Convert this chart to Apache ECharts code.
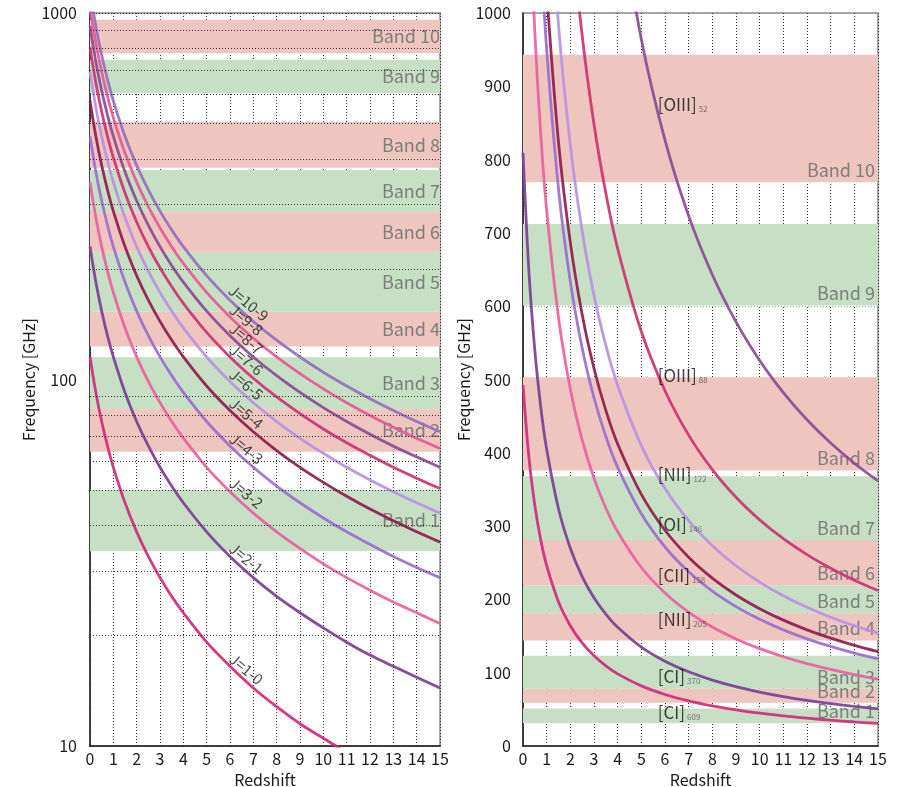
<!DOCTYPE html>
<html><head><meta charset="utf-8">
<script src="https://cdn.jsdelivr.net/npm/echarts/dist/echarts.min.js"></script>
<style>html,body{margin:0;padding:0;background:#fff}#c{width:899px;height:787px}</style>
</head><body><div id="c"></div>
<script>
// ---- data ----
const redshift = [0,0.25,0.5,0.75,1,1.5,2,2.5,3,3.5,4,5,6,7,8,9,10,11,12,13,14,15];

// CO ladder (left panel, GHz)
const coNames = ['J=1-0','J=2-1','J=3-2','J=4-3','J=5-4','J=6-5','J=7-6','J=8-7','J=9-8','J=10-9'];
const co10 = [115.3,92.2,76.8,65.9,57.6,46.1,38.4,32.9,28.8,25.6,23.1,19.2,16.5,14.4,12.8,11.5,10.5,9.6,8.87,8.23,7.68,7.2];
const co21 = [230.5,184.4,153.7,131.7,115.3,92.2,76.8,65.9,57.6,51.2,46.1,38.4,32.9,28.8,25.6,23.1,21.0,19.2,17.7,16.5,15.4,14.4];
const co32 = [345.8,276.6,230.5,197.6,172.9,138.3,115.3,98.8,86.5,76.8,69.2,57.6,49.4,43.2,38.4,34.6,31.4,28.8,26.6,24.7,23.1,21.6];
const co43 = [461.0,368.8,307.4,263.5,230.5,184.4,153.7,131.7,115.3,102.5,92.2,76.8,65.9,57.6,51.2,46.1,41.9,38.4,35.5,32.9,30.7,28.8];
const co54 = [576.3,461.0,384.2,329.3,288.1,230.5,192.1,164.6,144.1,128.1,115.3,96.0,82.3,72.0,64.0,57.6,52.4,48.0,44.3,41.2,38.4,36.0];
const co65 = [691.5,553.2,461.0,395.1,345.7,276.6,230.5,197.6,172.9,153.7,138.3,115.2,98.8,86.4,76.8,69.1,62.9,57.6,53.2,49.4,46.1,43.2];
const co76 = [806.7,645.3,537.8,460.9,403.3,322.7,268.9,230.5,201.7,179.3,161.3,134.4,115.2,100.8,89.6,80.7,73.3,67.2,62.1,57.6,53.8,50.4];
const co87 = [921.8,737.4,614.5,526.7,460.9,368.7,307.3,263.4,230.5,204.8,184.4,153.6,131.7,115.2,102.4,92.2,83.8,76.8,70.9,65.8,61.5,57.6];
const co98 = [1036.9,829.5,691.3,592.5,518.5,414.8,345.6,296.3,259.2,230.4,207.4,172.8,148.1,129.6,115.2,103.7,94.3,86.4,79.8,74.1,69.1,64.8];
const co109 = [1152.0,921.6,768.0,658.3,576.0,460.8,384.0,329.1,288.0,256.0,230.4,192.0,164.6,144.0,128.0,115.2,104.7,96.0,88.6,82.3,76.8,72.0];
const coLabelZ = [6.7,6.7,6.7,6.7,6.7,6.7,6.7,6.7,6.7,6.8];
const coLabelF = [16.2,32.5,49.0,64.7,80.8,97.0,113.1,129.3,145.4,161.6];

// Fine-structure lines (right panel, GHz)
const fsNames = ['[CI]','[CI]','[NII]','[CII]','[OI]','[NII]','[OIII]','[OIII]'];
const fsSubs  = ['609','370','205','158','146','122','88','52'];
const ci609  = [492.2,393.7,328.1,281.2,246.1,196.9,164.1,140.6,123.0,109.4,98.4,82.0,70.3,61.5,54.7,49.2,44.7,41.0,37.9,35.2,32.8,30.8];
const ci370  = [809.3,647.5,539.6,462.5,404.7,323.7,269.8,231.2,202.3,179.9,161.9,134.9,115.6,101.2,89.9,80.9,73.6,67.4,62.3,57.8,54.0,50.6];
const nii205 = [1461.1,1168.9,974.1,834.9,730.6,584.5,487.0,417.5,365.3,324.7,292.2,243.5,208.7,182.6,162.3,146.1,132.8,121.8,112.4,104.4,97.4,91.3];
const cii158 = [1900.5,1520.4,1267.0,1086.0,950.3,760.2,633.5,543.0,475.1,422.3,380.1,316.8,271.5,237.6,211.2,190.1,172.8,158.4,146.2,135.8,126.7,118.8];
const oi146  = [2060.1,1648.1,1373.4,1177.2,1030.0,824.0,686.7,588.6,515.0,457.8,412.0,343.3,294.3,257.5,228.9,206.0,187.3,171.7,158.5,147.1,137.3,128.8];
const nii122 = [2459.4,1967.5,1639.6,1405.4,1229.7,983.8,819.8,702.7,614.8,546.5,491.9,409.9,351.3,307.4,273.3,245.9,223.6,204.9,189.2,175.7,164.0,153.7];
const oiii88 = [3393.0,2714.4,2262.0,1938.9,1696.5,1357.2,1131.0,969.4,848.3,754.0,678.6,565.5,484.7,424.1,377.0,339.3,308.5,282.8,261.0,242.4,226.2,212.1];
const oiii52 = [5785.9,4628.7,3857.3,3306.2,2892.9,2314.4,1928.6,1653.1,1446.5,1285.8,1157.2,964.3,826.6,723.2,642.9,578.6,526.0,482.2,445.1,413.3,385.7,361.6];
const fsLabelZ = [5.67,5.67,5.67,5.67,5.67,5.67,5.67,5.67];
const fsLabelF = [46,95,173,233,302,370,505,875];

// ALMA bands as drawn in each panel (GHz)
const bandNames = ['Band 1','Band 2','Band 3','Band 4','Band 5','Band 6','Band 7','Band 8','Band 9','Band 10'];
const leftBandLo  = [34,63.5,83,123,153,223,286,378,605,778];
const leftBandHi  = [50,83,115,153,223,286,373,504,745,958];
const rightBandLo = [31,59,78,144,181,219,281,376,601,769];
const rightBandHi = [51,78,123,181,219,281,368,503,712,943];

// log-axis minor grid values
const logGrid = [20,30,40,50,60,70,80,90,200,300,400,500,600,700,800,900];

// ---- styling ----
const FONT = "'Noto Sans CJK JP','Noto Sans',sans-serif";
const palette = ['#cf2a7b','#7b3f93','#e9619f','#9b6dcf','#8e1c4c','#bb90e2','#cd3272','#8b4a95','#e35a94','#9270bd'];
const PINK = '#efc5c0', GREEN = '#c7dfc5';
const DOT = [1,2];

const coData = [co10,co21,co32,co43,co54,co65,co76,co87,co98,co109];
const fsData = [ci609,ci370,nii205,cii158,oi146,nii122,oiii88,oiii52];

function curve(vals, color, xi, name) {
  return {
    type:'line', name:name, xAxisIndex:xi, yAxisIndex:xi, z:3,
    data: redshift.map((z,i)=>[z, vals[i]]),
    showSymbol:false, smooth:0.35, clip:true, silent:true,
    lineStyle:{color:color, width:2.8, opacity:0.92}
  };
}
function bands(lo, hi, xi, pos, dist) {
  return {
    type:'line', xAxisIndex:xi, yAxisIndex:xi, data:[], z:-1, silent:true,
    markArea:{
      silent:true,
      label:{show:true, position:pos, distance:dist, fontSize:18, color:'#7d7d7d', fontFamily:FONT},
      data: lo.map((l,i)=>[
        {yAxis:l, name:bandNames[i], itemStyle:{color: i%2===0 ? GREEN : PINK, opacity:1}},
        {yAxis:hi[i]}
      ])
    }
  };
}

const series = [];
series.push(bands(leftBandLo, leftBandHi, 0, 'insideRight', 0));
series.push(bands(rightBandLo, rightBandHi, 1, 'insideBottomRight', 3));
series.push({
  type:'line', xAxisIndex:0, yAxisIndex:0, data:[], z:1, silent:true,
  markLine:{silent:true, symbol:['none','none'], label:{show:false},
    lineStyle:{color:'#333', type:DOT, width:1},
    data: logGrid.map(v=>({yAxis:v}))}
});
coData.forEach((d,i)=>series.push(curve(d, palette[i], 0, coNames[i])));
fsData.forEach((d,i)=>series.push(curve(d, palette[i], 1, fsNames[i]+fsSubs[i])));
series.push({
  type:'scatter', xAxisIndex:0, yAxisIndex:0, symbolSize:1, silent:true, z:5,
  itemStyle:{color:'transparent'},
  data: coNames.map((n,i)=>({name:n, value:[coLabelZ[i], coLabelF[i]]})),
  label:{show:true, position:'inside', formatter:'{b}', rotate:-40, fontSize:15, color:'#1a1a1a', fontFamily:FONT}
});
series.push({
  type:'scatter', xAxisIndex:1, yAxisIndex:1, symbolSize:1, silent:true, z:5,
  itemStyle:{color:'transparent'},
  data: fsNames.map((n,i)=>({name:n, sub:fsSubs[i], value:[fsLabelZ[i], fsLabelF[i]]})),
  label:{show:true, position:'right', distance:0,
    formatter: p => '{m|'+p.name+'}{s|'+p.data.sub+'}',
    rich:{m:{fontSize:17, color:'#111', fontFamily:FONT},
          s:{fontSize:8, color:'#555', fontFamily:FONT, verticalAlign:'bottom', padding:[0,0,0,2]}}}
});

const axisText = {fontSize:16, color:'#1a1a1a', fontFamily:FONT};
const gridBase = {top:13, bottom:41, show:true, borderColor:'#8a8a8a', borderWidth:1.5,
  backgroundColor:'transparent', containLabel:false, outerBoundsMode:'none'};

const option = {
  animation:false,
  backgroundColor:'#fff',
  grid:[Object.assign({left:90, right:459}, gridBase), Object.assign({left:523, right:21}, gridBase)],
  xAxis:[0,1].map(i=>({
    gridIndex:i, type:'value', min:0, max:15, interval:1,
    name:'Redshift', nameLocation:'middle', nameGap:23, nameTextStyle:axisText,
    axisLine:{show:true, onZero:false, lineStyle:{color:'#222', width:1.5}},
    axisTick:{show:false},
    axisLabel:Object.assign({margin:5, hideOverlap:false}, axisText),
    splitLine:{show:true, lineStyle:{color:'#333', type:DOT, width:1}}
  })),
  yAxis:[
    {gridIndex:0, type:'log', logBase:10, min:10, max:1000,
     name:'Frequency [GHz]', nameLocation:'middle', nameGap:53, nameTextStyle:axisText,
     axisLine:{show:true, lineStyle:{color:'#222', width:1.5}},
     axisTick:{show:false}, minorTick:{show:false},
     axisLabel:Object.assign({margin:13, formatter:v=>String(Math.round(v))}, axisText),
     splitLine:{show:true, lineStyle:{color:'#333', type:DOT, width:1}}},
    {gridIndex:1, type:'value', min:0, max:1000, interval:100,
     name:'Frequency [GHz]', nameLocation:'middle', nameGap:51, nameTextStyle:axisText,
     axisLine:{show:true, onZero:false, lineStyle:{color:'#222', width:1.5}},
     axisTick:{show:false},
     axisLabel:Object.assign({margin:12, formatter:v=>String(Math.round(v))}, axisText),
     splitLine:{show:true, lineStyle:{color:'#999', type:DOT, width:1}}}
  ],
  series:series
};
const chart = echarts.init(document.getElementById('c'), null, {renderer:'canvas'});
chart.setOption(option);
</script>
</body></html>
